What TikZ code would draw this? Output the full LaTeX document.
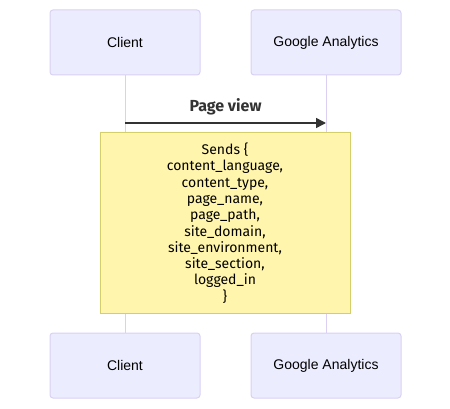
\documentclass[tikz,border=0pt]{standalone}
\usepackage{fontspec}
\setmainfont{Liberation Sans}
\newfontfamily\notefont{Fira Sans}
\usetikzlibrary{arrows.meta,positioning}

\definecolor{actorfill}{HTML}{ECECFF}
\definecolor{actorline}{HTML}{D9D0F3}
\definecolor{notefill}{HTML}{FFF5AD}
\definecolor{noteline}{HTML}{D4CF6A}
\definecolor{msgcol}{HTML}{333333}

\begin{document}
\begin{tikzpicture}[
  x=1pt, y=-1pt,
  node distance=50pt,
  actor/.style={draw=actorline, fill=actorfill, rounded corners=3pt, line width=1pt,
    minimum width=150pt, minimum height=65pt, font=\fontsize{14}{16}\selectfont},
  note/.style={draw=noteline, fill=notefill, line width=1pt, minimum width=250pt,
    minimum height=180pt, align=center, font=\notefont\fontsize{14}{16.3}\selectfont},
  life/.style={draw=actorline, line width=1pt},
  msg/.style={draw=msgcol, line width=1.5pt, -{Triangle[length=10pt,width=10pt]}},
  >={Latex}
]
\useasboundingbox (0,0) rectangle (450,409);

% actors (top)
\node[actor] (client) at (125,42.5) {Client};
\node[actor, right=of client] (ga) {Google Analytics};

% actors (bottom)
\node[actor] (clientb) at (125,365.5) {Client};
\node[actor, right=of clientb] (gab) {Google Analytics};

% lifelines
\draw[life] (client) -- (clientb);
\draw[life] (ga) -- (gab);

% message
\coordinate (pvstart) at (125,123);
\coordinate (pvend) at (326,123);
\draw[msg] (pvstart) -- node[above=4pt, text=msgcol, font=\notefont\bfseries\fontsize{16}{18}\selectfont]{Page view} (pvend);

% note over both
\node[note] (sends) at (225,223)
{Sends \{\\content\_language,\\content\_type,\\page\_name,\\page\_path,\\site\_domain,\\site\_environment,\\site\_section,\\logged\_in\\\}};
\end{tikzpicture}
\end{document}
